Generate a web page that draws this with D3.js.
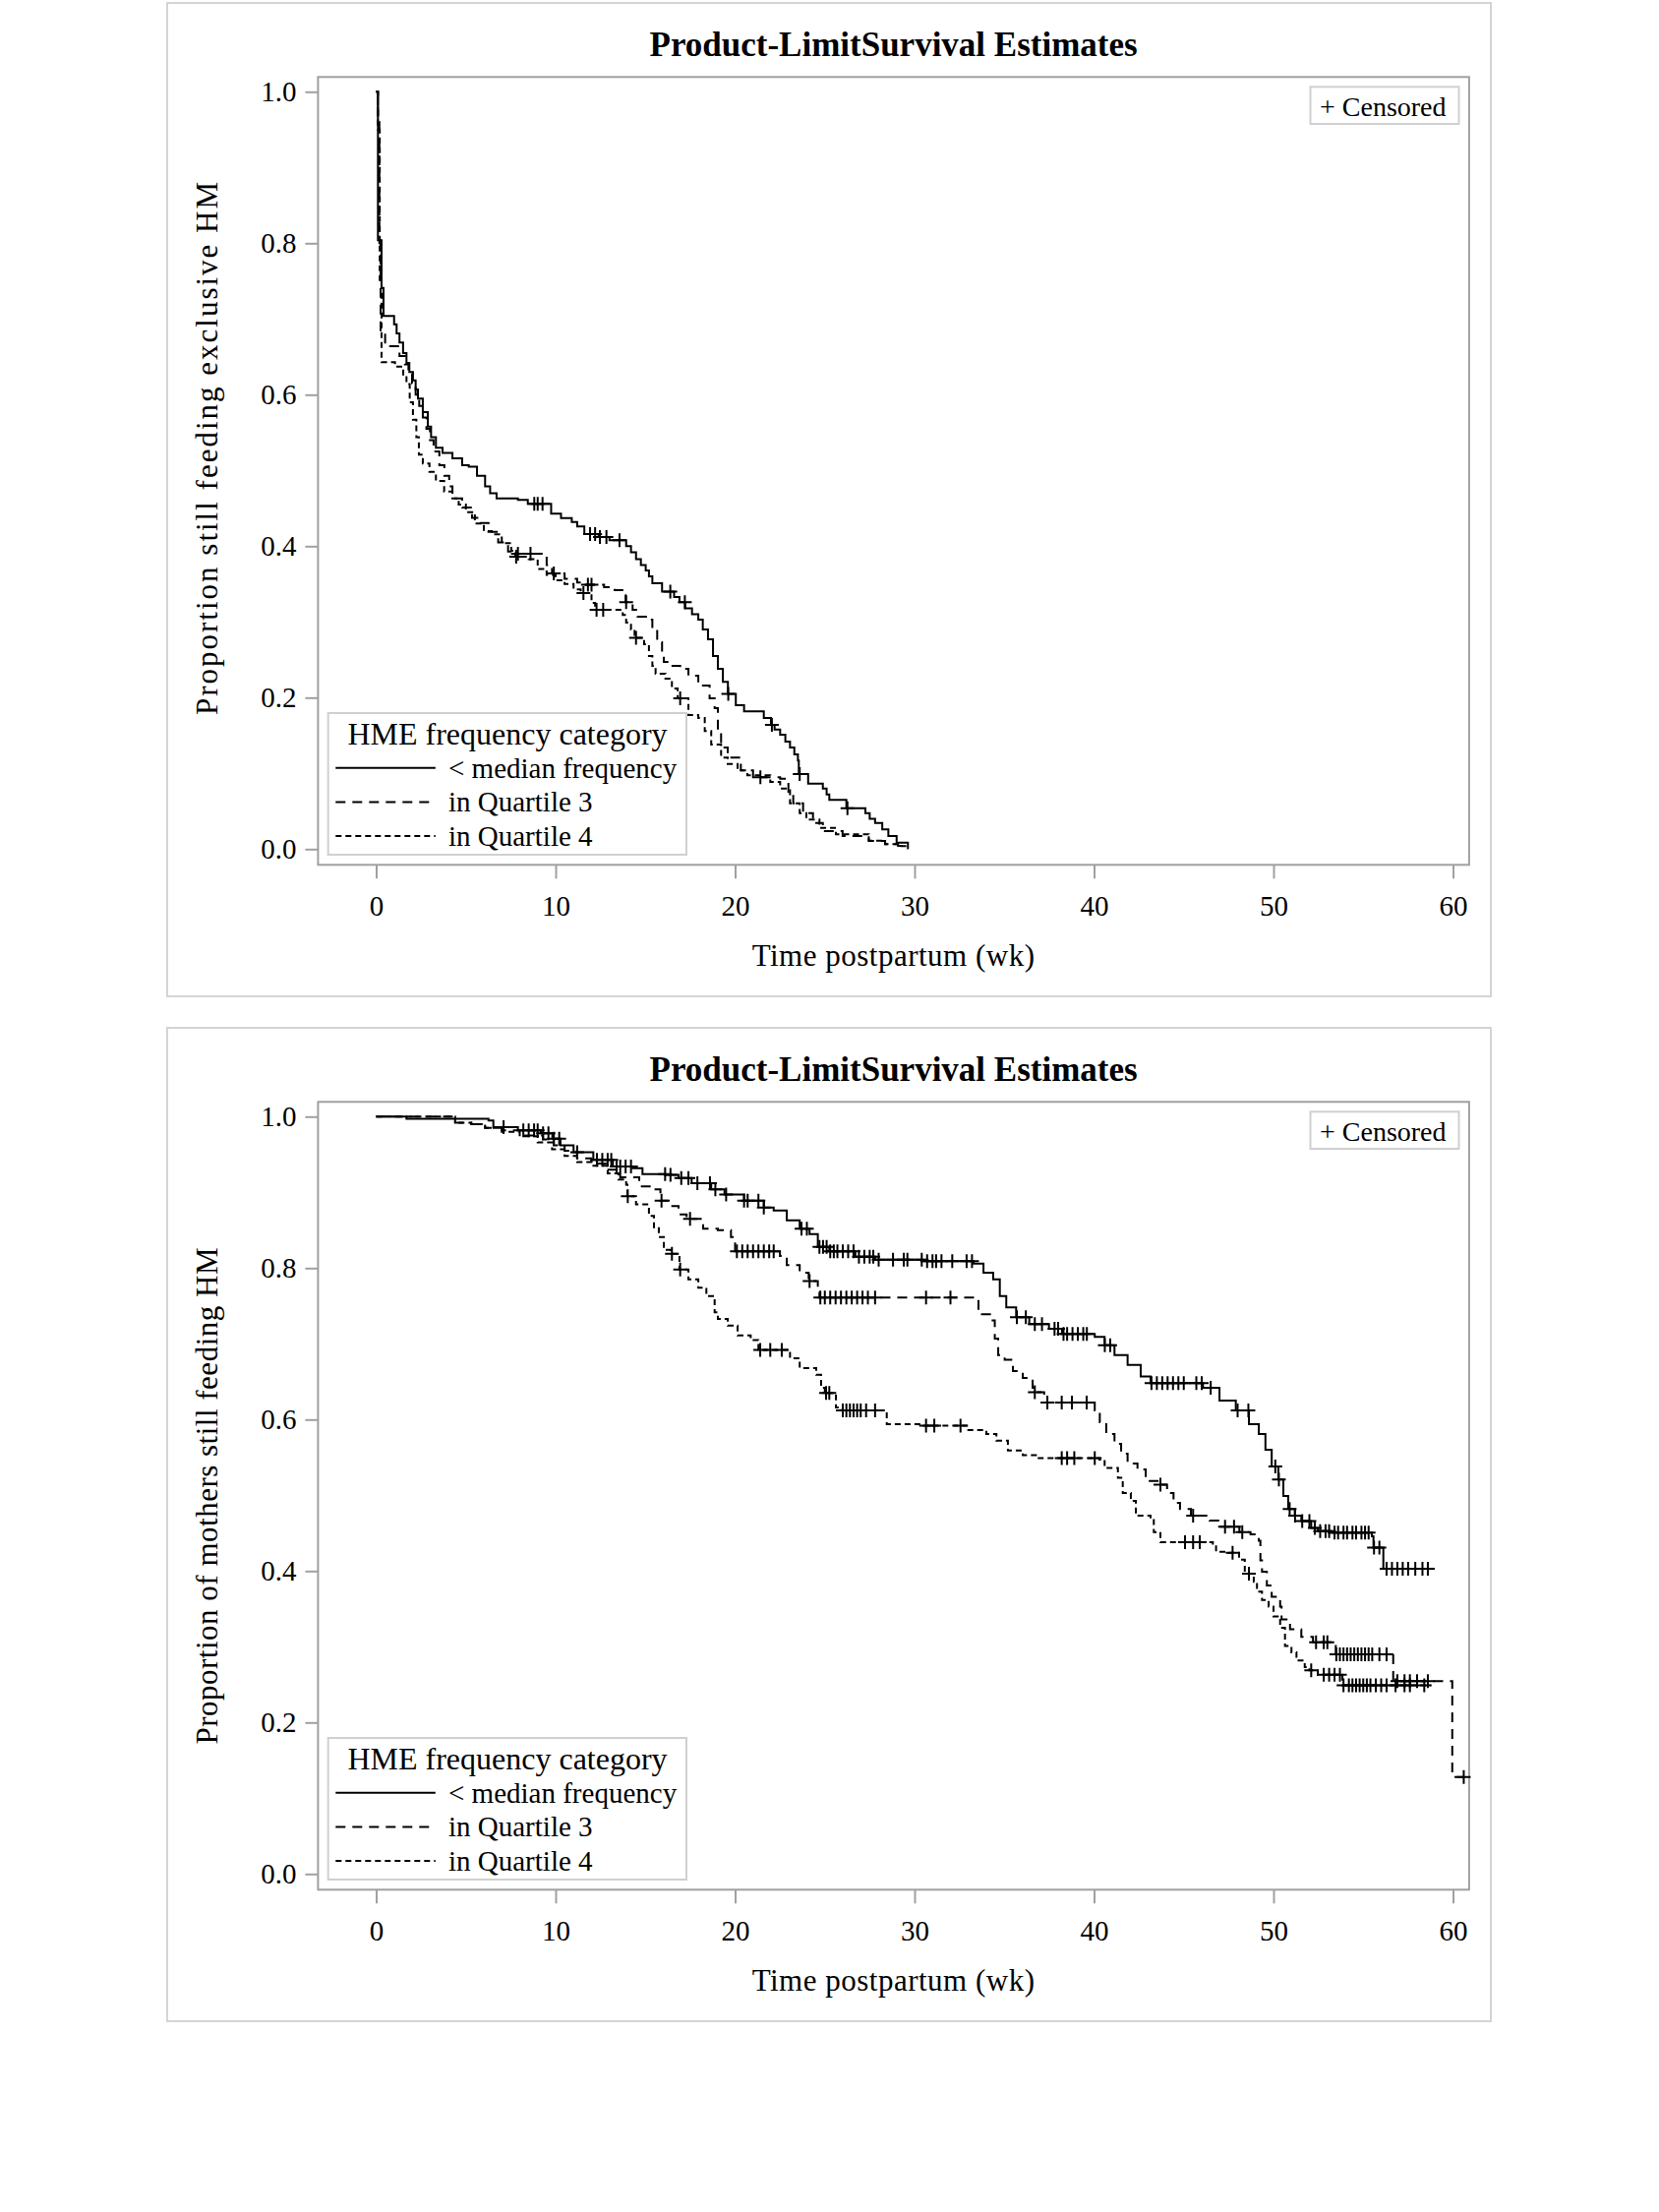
<!DOCTYPE html>
<html>
<head>
<meta charset="utf-8">
<script src="https://cdn.jsdelivr.net/npm/d3@7"></script>
<style>
  body { margin: 0; background: #fff; }
  text { font-family: "Liberation Serif", "Times New Roman", serif; fill: #000; }
</style>
</head>
<body>
<div id="chart"></div>
<script>
// ---- axis / legend texts
const chartTitle = 'Product-LimitSurvival Estimates';
const xLabel = 'Time postpartum (wk)';
const yLabels = ['Proportion still feeding exclusive HM', 'Proportion of mothers still feeding HM'];
const xTicks = [0, 10, 20, 30, 40, 50, 60];
const yTicks = [0, 0.2, 0.4, 0.6, 0.8, 1.0];
const legendTitle = 'HME frequency category';
const groupNames = ['< median frequency', 'in Quartile 3', 'in Quartile 4'];
const censorLabel = '+ Censored';

// ---- top chart: exclusive HM, [week, proportion] at each step
const exclMedian = [[0,1.0],[0.1,0.804],[0.3,0.741],[0.41,0.704],[1.0,0.693],[1.14,0.681],[1.3,0.669],[1.5,0.655],[1.69,0.642],[1.85,0.63],[2.05,0.619],[2.2,0.607],[2.33,0.595],[2.6,0.577],[2.88,0.558],[3.06,0.544],[3.33,0.53],[3.7,0.523],[4.25,0.516],[4.79,0.507],[5.16,0.505],[5.62,0.493],[6.07,0.479],[6.35,0.47],[6.71,0.463],[7.9,0.461],[8.45,0.456],[9.75,0.443],[10.3,0.437],[10.9,0.432],[11.2,0.426],[11.6,0.416],[12.4,0.412],[13.0,0.408],[13.93,0.4],[14.2,0.392],[14.48,0.383],[14.75,0.375],[15.02,0.368],[15.2,0.36],[15.39,0.351],[15.93,0.34],[16.6,0.333],[16.9,0.326],[17.22,0.318],[17.6,0.31],[17.95,0.303],[18.2,0.29],[18.49,0.277],[18.77,0.255],[19.04,0.238],[19.32,0.221],[19.6,0.205],[20.04,0.19],[20.5,0.182],[21.6,0.173],[22.0,0.164],[22.2,0.158],[22.51,0.151],[22.8,0.142],[23.06,0.134],[23.3,0.125],[23.5,0.117],[23.55,0.099],[24.07,0.0865],[24.89,0.08],[25.1,0.072],[25.25,0.065],[26.2,0.054],[27.26,0.0475],[27.5,0.04],[27.8,0.0346],[28.2,0.026],[28.54,0.0173],[29.0,0.0086],[29.63,0]];
const exclQ3 = [[0,1.0],[0.1,0.96],[0.18,0.8],[0.25,0.682],[0.5,0.664],[1.3,0.651],[1.6,0.64],[1.8,0.63],[2.0,0.615],[2.2,0.6],[2.4,0.585],[2.6,0.57],[2.8,0.555],[3.0,0.54],[3.2,0.525],[3.52,0.507],[3.8,0.493],[4.07,0.479],[4.25,0.463],[4.79,0.451],[5.34,0.4375],[5.71,0.4305],[6.26,0.419],[6.8,0.405],[7.35,0.393],[7.7,0.39],[9.5,0.375],[9.8,0.364],[10.5,0.357],[11.2,0.352],[11.7,0.349],[12.7,0.346],[13.29,0.342],[13.84,0.335],[13.9,0.326],[14.29,0.316],[14.57,0.307],[15.2,0.303],[15.39,0.29],[15.66,0.273],[15.93,0.262],[16.03,0.247],[16.39,0.242],[16.94,0.238],[17.4,0.229],[17.95,0.216],[18.58,0.199],[18.86,0.186],[19.04,0.156],[19.22,0.134],[19.59,0.121],[20.32,0.104],[21.0,0.095],[22.51,0.093],[22.88,0.089],[22.97,0.0735],[23.24,0.0605],[23.79,0.0475],[24.34,0.0345],[24.89,0.0238],[25.99,0.0173],[27.45,0.0108],[28.36,0.0065],[29.08,0.0043],[29.5,0]];
const exclQ4 = [[0,1.0],[0.1,0.95],[0.2,0.75],[0.3,0.643],[1.05,0.637],[1.51,0.625],[1.69,0.614],[1.87,0.59],[2.05,0.567],[2.24,0.544],[2.38,0.521],[2.6,0.509],[2.97,0.498],[3.33,0.486],[3.79,0.472],[4.25,0.463],[4.6,0.455],[5.0,0.445],[5.5,0.43],[6.0,0.42],[6.44,0.4156],[7.0,0.404],[7.53,0.394],[7.75,0.386],[8.5,0.383],[9.0,0.37],[9.5,0.362],[10.0,0.355],[10.5,0.35],[11.0,0.343],[11.4,0.338],[12.0,0.325],[12.2,0.316],[13.74,0.309],[13.93,0.299],[14.2,0.29],[14.4,0.279],[14.93,0.2705],[15.2,0.255],[15.39,0.242],[15.57,0.2316],[16.12,0.225],[16.48,0.212],[16.8,0.199],[17.4,0.177],[17.95,0.173],[18.31,0.156],[18.67,0.138],[19.22,0.121],[19.59,0.1125],[20.14,0.104],[20.68,0.0974],[21.96,0.0887],[22.51,0.08],[23.06,0.0605],[23.6,0.0475],[23.97,0.039],[24.7,0.028],[25.62,0.0195],[27.45,0.011],[28.36,0.0065],[29.2,0.004],[29.6,0]];
const exclMedianCens = [8.81, 9.0, 9.27, 11.92, 12.2, 12.47, 12.83, 13.56, 16.39, 17.2, 19.62, 22.05, 23.6, 26.26];
const exclQ3Cens = [7.9, 8.6, 9.9, 11.8, 12.0, 13.93, 21.41];
const exclQ4Cens = [7.8, 11.55, 12.28, 12.65, 14.48, 16.94];

// ---- bottom chart: any HM
const anyMedian = [[0,1.0],[1.69,0.997],[6.26,0.995],[6.53,0.986],[7.9,0.982],[9.18,0.978],[9.82,0.971],[10.27,0.962],[11.0,0.953],[12.1,0.943],[13.19,0.934],[14.29,0.932],[14.84,0.924],[16.12,0.923],[16.85,0.919],[17.58,0.912],[18.67,0.904],[19.41,0.897],[20.5,0.889],[21.6,0.88],[22.15,0.876],[22.88,0.863],[23.6,0.852],[24.15,0.845],[24.61,0.828],[25.25,0.822],[26.7,0.815],[27.8,0.811],[30.5,0.809],[33.29,0.806],[33.84,0.794],[34.38,0.785],[34.75,0.763],[35.11,0.748],[35.66,0.735],[36.39,0.726],[37.49,0.72],[38.22,0.713],[40.04,0.709],[40.59,0.698],[41.14,0.685],[41.87,0.672],[42.6,0.657],[43.15,0.648],[46.07,0.642],[46.99,0.625],[47.9,0.612],[48.63,0.594],[49.18,0.581],[49.55,0.56],[49.9,0.538],[50.27,0.521],[50.55,0.499],[50.82,0.482],[51.19,0.473],[51.55,0.466],[52.1,0.457],[52.47,0.4527],[53.19,0.4506],[55.48,0.446],[55.57,0.431],[56.12,0.403],[58.95,0.403]];
const anyQ3 = [[0,1.0],[4.4,0.992],[5.3,0.99],[6.07,0.985],[7.0,0.982],[8.2,0.975],[9.3,0.97],[9.9,0.962],[10.5,0.955],[11.2,0.945],[12.0,0.938],[12.8,0.93],[13.6,0.92],[14.66,0.908],[15.39,0.904],[15.84,0.889],[16.4,0.882],[16.85,0.871],[17.3,0.865],[18.22,0.852],[19.04,0.85],[19.77,0.841],[20.0,0.822],[22.5,0.816],[22.88,0.804],[23.6,0.794],[24.1,0.783],[24.61,0.7675],[24.7,0.761],[33.38,0.761],[33.56,0.739],[34.2,0.731],[34.47,0.707],[34.66,0.685],[35.02,0.679],[35.48,0.664],[36.03,0.655],[36.58,0.642],[36.65,0.636],[37.22,0.6225],[40.04,0.612],[40.32,0.5965],[40.68,0.581],[41.14,0.568],[41.51,0.555],[41.87,0.542],[42.42,0.534],[42.88,0.519],[43.6,0.514],[44.07,0.503],[44.43,0.49],[44.79,0.482],[45.4,0.473],[46.44,0.4666],[47.0,0.4584],[48.1,0.4514],[48.72,0.4484],[49.18,0.44],[49.27,0.414],[49.36,0.399],[49.63,0.381],[49.9,0.366],[50.37,0.353],[50.45,0.336],[50.92,0.323],[51.55,0.313],[52.2,0.306],[53.47,0.29],[56.67,0.2545],[59.96,0.128],[60.6,0.128]];
const anyQ4 = [[0,1.0],[4.4,0.992],[5.3,0.99],[6.07,0.985],[7.0,0.98],[8.0,0.974],[9.0,0.966],[9.8,0.957],[10.5,0.948],[11.2,0.94],[12.0,0.935],[12.9,0.925],[13.5,0.917],[13.93,0.91],[14.0,0.895],[14.48,0.884],[15.2,0.869],[15.48,0.854],[15.75,0.841],[16.03,0.824],[16.4,0.819],[16.9,0.798],[17.4,0.785],[17.95,0.774],[18.4,0.763],[18.86,0.7415],[19.04,0.733],[19.59,0.724],[20.14,0.711],[20.87,0.705],[21.3,0.692],[23.06,0.681],[23.6,0.668],[24.52,0.659],[24.79,0.642],[25.0,0.635],[25.62,0.616],[25.9,0.612],[28.45,0.594],[30.5,0.592],[32.92,0.586],[34.0,0.581],[34.56,0.572],[35.2,0.559],[36.03,0.553],[36.76,0.549],[40.3,0.547],[40.59,0.536],[41.33,0.523],[41.6,0.503],[42.05,0.4926],[42.33,0.473],[43.15,0.469],[43.33,0.4514],[43.7,0.438],[46.62,0.436],[46.8,0.4254],[47.5,0.424],[48.08,0.415],[48.4,0.3965],[48.9,0.3857],[49.08,0.3727],[49.36,0.3618],[49.73,0.353],[50.0,0.34],[50.37,0.325],[50.64,0.301],[51.0,0.2926],[51.28,0.2818],[51.74,0.273],[52.0,0.2688],[52.47,0.263],[53.84,0.249],[58.8,0.249]];
const anyMedianCens = [7.1,8.2,8.5,8.8,9.0,9.3,9.6,9.9,10.2,11.2,12.3,12.6,12.9,13.1,13.4,13.6,13.9,14.2,16.1,16.4,17.0,17.4,17.9,18.6,18.9,19.5,20.5,20.7,21.3,21.6,23.7,24.0,24.7,24.9,25.1,25.3,25.5,25.7,26.0,26.3,26.6,26.9,27.2,27.5,27.7,28.0,28.8,29.4,29.6,30.4,30.7,31.0,31.2,31.5,32.1,32.9,33.2,35.7,36.2,36.7,37.1,37.8,38.0,38.3,38.5,38.8,39.1,39.4,39.6,40.6,40.9,43.2,43.5,43.8,44.1,44.4,44.7,45.0,45.7,46.0,46.5,48.0,48.6,50.1,50.3,50.9,51.2,51.6,52.0,52.3,52.6,52.9,53.1,53.4,53.6,53.9,54.1,54.4,54.6,54.9,55.1,55.3,55.6,55.9,56.3,56.6,56.9,57.2,57.5,57.9,58.3,58.6];
const anyQ3Cens = [15.9,17.49,20.1,20.4,20.7,21.0,21.3,21.6,21.9,22.15,24.15,24.75,25.0,25.3,25.6,25.9,26.2,26.5,26.8,27.1,27.4,27.8,30.64,32.0,36.7,37.4,38.2,38.77,39.59,43.7,45.52,47.3,47.8,48.26,52.37,52.8,53.0,53.5,53.7,53.9,54.1,54.3,54.5,54.7,54.9,55.1,55.3,55.5,55.9,56.3,56.9,57.3,57.6,58.0,58.6,60.6];
const anyQ4Cens = [14.02,16.48,16.94,21.4,21.96,22.6,25.07,25.25,26.0,26.2,26.4,26.6,26.8,27.0,27.3,27.8,30.64,31.1,32.56,38.2,38.5,38.9,40.04,45.07,45.52,45.89,47.72,48.63,52.1,52.8,53.1,53.4,53.7,53.9,54.2,54.4,54.6,54.8,55.0,55.2,55.4,55.7,56.0,56.3,56.8,57.3,57.6,58.4];

const dashes = [null, '10,7', '6,4'];

var svg = d3.select('#chart')
    .append('svg')
    .attr('width', 1687)
    .attr('height', 2249);

// value of a step curve at time t
function stepAt(curve, t) {
    let v = curve[0][1];
    for (const p of curve) {
        if (p[0] <= t) v = p[1]; else break;
    }
    return v;
}

function drawPanel(oy, yLabel, labelY, labelSpacing, curves, cens) {
    let g = svg.append('g').attr('transform', 'translate(0,' + oy + ')');

    // outer panel border
    g.append('rect')
        .attr('x', 170).attr('y', 3).attr('width', 1346).attr('height', 1010)
        .attr('fill', 'none').attr('stroke', '#d4d4d4').attr('stroke-width', 2);

    g.append('text')
        .attr('x', 908.6).attr('y', 57)
        .attr('text-anchor', 'middle')
        .style('font-size', '35px').style('font-weight', 'bold')
        .text(chartTitle);

    let x = d3.scaleLinear().domain([0, 60]).range([382.5, 1477.5]);
    let y = d3.scaleLinear().domain([0, 1]).range([863.3, 93.3]);

    // plot frame
    g.append('rect')
        .attr('x', 323.4).attr('y', 78.3).attr('width', 1170.5).attr('height', 801)
        .attr('fill', 'none').attr('stroke', '#a0a0a0').attr('stroke-width', 2);

    let xAxis = d3.axisBottom(x).tickValues(xTicks).tickSize(14).tickPadding(17).tickSizeOuter(0);
    let yAxis = d3.axisLeft(y).tickValues(yTicks).tickSize(13).tickPadding(9).tickFormat(d3.format('.1f'));

    let gx = g.append('g').attr('transform', 'translate(0,879.3)').call(xAxis);
    let gy = g.append('g').attr('transform', 'translate(323.4,0)').call(yAxis);
    [gx, gy].forEach(function(a) {
        a.attr('font-family', '"Liberation Serif", "Times New Roman", serif').attr('font-size', 29);
        a.select('.domain').remove();
        a.selectAll('line').attr('stroke', '#a0a0a0').attr('stroke-width', 2);
        a.selectAll('text')
            .style('font-size', '29px')
            .style('font-family', '"Liberation Serif", "Times New Roman", serif')
            .attr('fill', '#000');
    });

    g.append('text')
        .attr('x', 908.6).attr('y', 982)
        .attr('text-anchor', 'middle')
        .style('font-size', '31px').style('letter-spacing', '0.5px')
        .text(xLabel);

    g.append('text')
        .attr('transform', 'translate(221,' + labelY + ') rotate(-90)')
        .attr('text-anchor', 'middle')
        .style('font-size', '31px').style('letter-spacing', labelSpacing)
        .text(yLabel);

    // survival curves
    let line = d3.line()
        .x(function(d) { return x(d[0]); })
        .y(function(d) { return y(d[1]); })
        .curve(d3.curveStepAfter);

    curves.forEach(function(c, i) {
        g.append('path')
            .datum(c)
            .attr('d', line)
            .attr('fill', 'none')
            .attr('stroke', '#000')
            .attr('stroke-width', 2)
            .attr('stroke-dasharray', dashes[i]);
    });

    // censor marks
    cens.forEach(function(times, i) {
        g.selectAll('.cens' + i)
            .data(times)
            .enter()
            .append('path')
            .attr('class', 'cens' + i)
            .attr('transform', function(t) {
                return 'translate(' + x(t) + ',' + y(stepAt(curves[i], t)) + ')';
            })
            .attr('d', 'M-7,0H7M0,-7V7')
            .attr('stroke', '#000')
            .attr('stroke-width', 2);
    });

    // "+ Censored" box
    g.append('rect')
        .attr('x', 1332.5).attr('y', 88.3).attr('width', 151).attr('height', 37.7)
        .attr('fill', '#fff').attr('stroke', '#d0d0d0').attr('stroke-width', 2);
    g.append('text')
        .attr('x', 1342).attr('y', 118)
        .style('font-size', '28px')
        .text(censorLabel);

    // group legend
    g.append('rect')
        .attr('x', 333.7).attr('y', 725).attr('width', 364.3).attr('height', 144)
        .attr('fill', '#fff').attr('stroke', '#d0d0d0').attr('stroke-width', 2);
    g.append('text')
        .attr('x', 516).attr('y', 756.7)
        .attr('text-anchor', 'middle')
        .style('font-size', '32px')
        .text(legendTitle);
    groupNames.forEach(function(name, i) {
        let ly = 780.7 + i * 34.7;
        g.append('line')
            .attr('x1', 341.3).attr('x2', 442.8)
            .attr('y1', ly).attr('y2', ly)
            .attr('stroke', '#000').attr('stroke-width', 2)
            .attr('stroke-dasharray', dashes[i]);
        g.append('text')
            .attr('x', 456).attr('y', ly + 10)
            .style('font-size', '29px')
            .text(name);
    });
}

drawPanel(0, yLabels[0], 455, '2px', [exclMedian, exclQ3, exclQ4], [exclMedianCens, exclQ3Cens, exclQ4Cens]);
drawPanel(1042, yLabels[1], 478.8, '0.5px', [anyMedian, anyQ3, anyQ4], [anyMedianCens, anyQ3Cens, anyQ4Cens]);
</script>
</body>
</html>
